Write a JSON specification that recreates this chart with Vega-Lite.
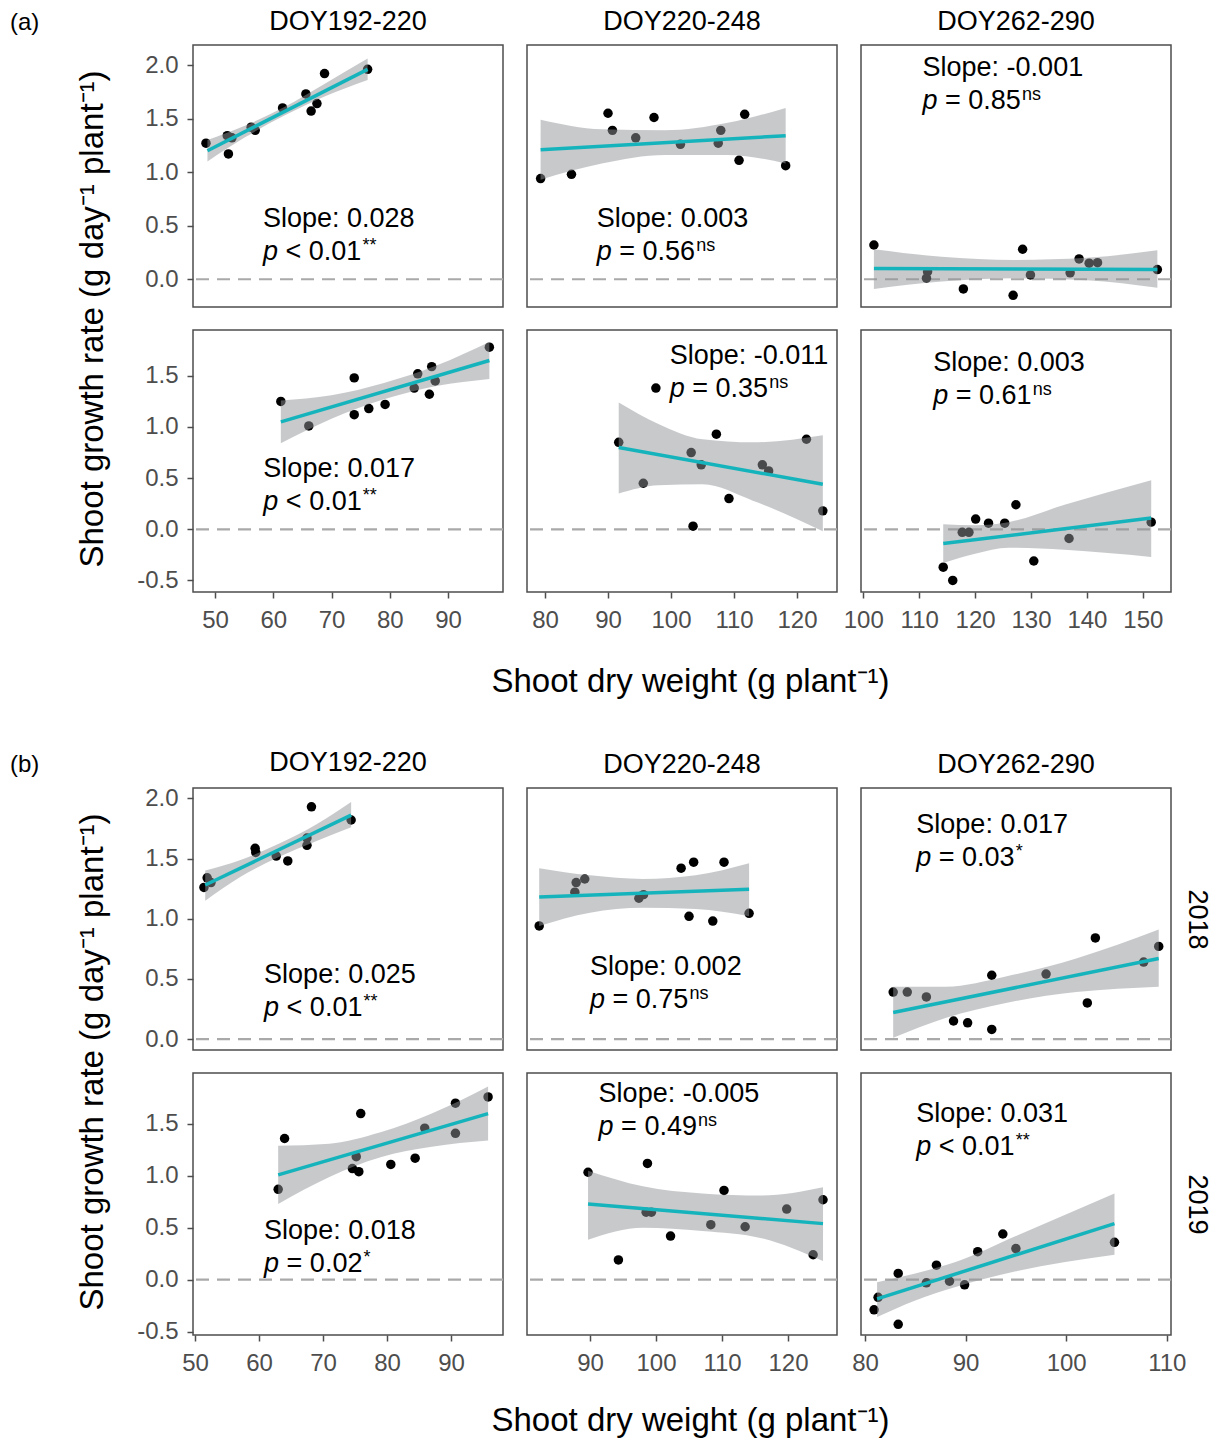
{
"$schema": "https://vega.github.io/schema/vega-lite/v6.json",
"padding": {"left": 10, "top": 7, "right": 8, "bottom": 2},
"config": {
  "font": "Liberation Sans",
  "view": {"stroke": "#4D4D4D", "strokeWidth": 1.5},
  "axis": {"domain": false, "grid": false, "tickColor": "#4D4D4D", "tickSize": 6, "tickWidth": 1.5, "labelColor": "#4D4D4D", "labelFontSize": 24, "labelPadding": 10, "labelFlush": false, "labelOverlap": false, "titleFontSize": 33, "titleFontWeight": "normal", "titleColor": "black"},
  "title": {"fontSize": 27, "fontWeight": "normal", "color": "black", "baseline": "alphabetic", "offset": 9}
},
"datasets": {
  "pts": [
    {"p":"a11","x":48.45,"y":1.27},{"p":"a11","x":52.1,"y":1.34},{"p":"a11","x":52.9,"y":1.32},{"p":"a11","x":52.3,"y":1.17},{"p":"a11","x":56.2,"y":1.42},{"p":"a11","x":56.9,"y":1.39},{"p":"a11","x":61.6,"y":1.60},{"p":"a11","x":65.6,"y":1.73},{"p":"a11","x":67.5,"y":1.64},{"p":"a11","x":66.5,"y":1.57},{"p":"a11","x":68.8,"y":1.92},{"p":"a11","x":76.2,"y":1.96},
    {"p":"a12","x":79.3,"y":0.94},{"p":"a12","x":84.2,"y":0.98},{"p":"a12","x":90.0,"y":1.55},{"p":"a12","x":90.7,"y":1.39},{"p":"a12","x":94.4,"y":1.32},{"p":"a12","x":97.3,"y":1.51},{"p":"a12","x":101.5,"y":1.26},{"p":"a12","x":107.5,"y":1.27},{"p":"a12","x":107.9,"y":1.39},{"p":"a12","x":110.8,"y":1.11},{"p":"a12","x":111.7,"y":1.54},{"p":"a12","x":118.2,"y":1.06},
    {"p":"a13","x":101.9,"y":0.32},{"p":"a13","x":111.5,"y":0.07},{"p":"a13","x":111.3,"y":0.01},{"p":"a13","x":117.9,"y":-0.09},{"p":"a13","x":128.5,"y":0.28},{"p":"a13","x":126.8,"y":-0.15},{"p":"a13","x":129.9,"y":0.04},{"p":"a13","x":137.0,"y":0.06},{"p":"a13","x":138.6,"y":0.19},{"p":"a13","x":140.4,"y":0.15},{"p":"a13","x":141.9,"y":0.155},{"p":"a13","x":152.6,"y":0.09},
    {"p":"a21","x":61.3,"y":1.25},{"p":"a21","x":66.1,"y":1.01},{"p":"a21","x":73.9,"y":1.48},{"p":"a21","x":73.9,"y":1.12},{"p":"a21","x":76.4,"y":1.18},{"p":"a21","x":79.2,"y":1.22},{"p":"a21","x":84.2,"y":1.38},{"p":"a21","x":84.8,"y":1.52},{"p":"a21","x":87.2,"y":1.59},{"p":"a21","x":87.8,"y":1.45},{"p":"a21","x":86.8,"y":1.32},{"p":"a21","x":97.1,"y":1.78},
    {"p":"a22","x":91.7,"y":0.85},{"p":"a22","x":95.6,"y":0.45},{"p":"a22","x":97.6,"y":1.38},{"p":"a22","x":103.2,"y":0.75},{"p":"a22","x":104.8,"y":0.63},{"p":"a22","x":103.5,"y":0.03},{"p":"a22","x":107.2,"y":0.93},{"p":"a22","x":109.2,"y":0.30},{"p":"a22","x":114.5,"y":0.63},{"p":"a22","x":115.5,"y":0.57},{"p":"a22","x":121.5,"y":0.88},{"p":"a22","x":124.1,"y":0.18},
    {"p":"a23","x":114.3,"y":-0.37},{"p":"a23","x":116.0,"y":-0.50},{"p":"a23","x":117.7,"y":-0.03},{"p":"a23","x":118.9,"y":-0.03},{"p":"a23","x":120.1,"y":0.10},{"p":"a23","x":122.4,"y":0.06},{"p":"a23","x":125.3,"y":0.06},{"p":"a23","x":127.3,"y":0.24},{"p":"a23","x":130.5,"y":-0.31},{"p":"a23","x":136.8,"y":-0.09},{"p":"a23","x":151.5,"y":0.07},
    {"p":"b11","x":51.4,"y":1.26},{"p":"b11","x":51.9,"y":1.34},{"p":"b11","x":52.5,"y":1.30},{"p":"b11","x":59.4,"y":1.585},{"p":"b11","x":59.5,"y":1.55},{"p":"b11","x":62.7,"y":1.52},{"p":"b11","x":64.5,"y":1.48},{"p":"b11","x":67.5,"y":1.61},{"p":"b11","x":67.5,"y":1.67},{"p":"b11","x":68.2,"y":1.93},{"p":"b11","x":74.4,"y":1.82},
    {"p":"b12","x":82.3,"y":0.94},{"p":"b12","x":87.7,"y":1.22},{"p":"b12","x":87.9,"y":1.30},{"p":"b12","x":89.2,"y":1.33},{"p":"b12","x":97.4,"y":1.17},{"p":"b12","x":98.1,"y":1.20},{"p":"b12","x":103.8,"y":1.42},{"p":"b12","x":105.7,"y":1.47},{"p":"b12","x":105.0,"y":1.02},{"p":"b12","x":108.6,"y":0.98},{"p":"b12","x":110.3,"y":1.47},{"p":"b12","x":114.1,"y":1.045},
    {"p":"b13","x":82.8,"y":0.39},{"p":"b13","x":84.2,"y":0.39},{"p":"b13","x":86.1,"y":0.35},{"p":"b13","x":88.8,"y":0.15},{"p":"b13","x":90.2,"y":0.135},{"p":"b13","x":92.6,"y":0.53},{"p":"b13","x":92.6,"y":0.08},{"p":"b13","x":98.0,"y":0.54},{"p":"b13","x":102.1,"y":0.30},{"p":"b13","x":102.9,"y":0.84},{"p":"b13","x":107.7,"y":0.64},{"p":"b13","x":109.2,"y":0.77},
    {"p":"b21","x":63.0,"y":0.87},{"p":"b21","x":64.0,"y":1.36},{"p":"b21","x":74.6,"y":1.07},{"p":"b21","x":75.2,"y":1.185},{"p":"b21","x":75.6,"y":1.04},{"p":"b21","x":75.9,"y":1.60},{"p":"b21","x":80.6,"y":1.11},{"p":"b21","x":84.4,"y":1.17},{"p":"b21","x":85.9,"y":1.46},{"p":"b21","x":90.7,"y":1.70},{"p":"b21","x":90.7,"y":1.41},{"p":"b21","x":95.8,"y":1.76},
    {"p":"b22","x":89.7,"y":1.035},{"p":"b22","x":94.3,"y":0.19},{"p":"b22","x":98.7,"y":1.12},{"p":"b22","x":98.5,"y":0.65},{"p":"b22","x":99.3,"y":0.65},{"p":"b22","x":102.2,"y":0.42},{"p":"b22","x":108.3,"y":0.53},{"p":"b22","x":110.3,"y":0.86},{"p":"b22","x":113.5,"y":0.51},{"p":"b22","x":119.8,"y":0.68},{"p":"b22","x":123.8,"y":0.24},{"p":"b22","x":125.3,"y":0.77},
    {"p":"b23","x":80.9,"y":-0.29},{"p":"b23","x":81.3,"y":-0.17},{"p":"b23","x":83.3,"y":0.06},{"p":"b23","x":83.3,"y":-0.43},{"p":"b23","x":86.1,"y":-0.03},{"p":"b23","x":87.1,"y":0.14},{"p":"b23","x":88.4,"y":-0.015},{"p":"b23","x":89.9,"y":-0.05},{"p":"b23","x":91.2,"y":0.27},{"p":"b23","x":93.7,"y":0.44},{"p":"b23","x":95.0,"y":0.30},{"p":"b23","x":104.8,"y":0.36}
  ],
  "fit": [
    {"p":"a11","x":48.7,"y":1.20},{"p":"a11","x":76.2,"y":1.96},
    {"p":"a12","x":79.3,"y":1.21},{"p":"a12","x":118.2,"y":1.34},
    {"p":"a13","x":101.9,"y":0.10},{"p":"a13","x":152.6,"y":0.09},
    {"p":"a21","x":61.3,"y":1.05},{"p":"a21","x":97.1,"y":1.65},
    {"p":"a22","x":91.7,"y":0.80},{"p":"a22","x":124.1,"y":0.44},
    {"p":"a23","x":114.3,"y":-0.14},{"p":"a23","x":151.5,"y":0.11},
    {"p":"b11","x":51.6,"y":1.28},{"p":"b11","x":74.4,"y":1.86},
    {"p":"b12","x":82.3,"y":1.18},{"p":"b12","x":114.1,"y":1.245},
    {"p":"b13","x":82.8,"y":0.22},{"p":"b13","x":109.2,"y":0.67},
    {"p":"b21","x":63.0,"y":1.01},{"p":"b21","x":95.8,"y":1.60},
    {"p":"b22","x":89.7,"y":0.73},{"p":"b22","x":125.3,"y":0.54},
    {"p":"b23","x":81.2,"y":-0.185},{"p":"b23","x":104.8,"y":0.54}
  ],
  "band": [
    {"p":"a11","x":48.7,"y":1.10,"y2":1.30},{"p":"a11","x":55,"y":1.32,"y2":1.43},{"p":"a11","x":62,"y":1.53,"y2":1.61},{"p":"a11","x":69,"y":1.71,"y2":1.83},{"p":"a11","x":76.2,"y":1.86,"y2":2.06},
    {"p":"a12","x":79.3,"y":0.93,"y2":1.49},{"p":"a12","x":89,"y":1.08,"y2":1.40},{"p":"a12","x":99,"y":1.16,"y2":1.39},{"p":"a12","x":109,"y":1.16,"y2":1.46},{"p":"a12","x":118.2,"y":1.08,"y2":1.60},
    {"p":"a13","x":101.9,"y":-0.09,"y2":0.28},{"p":"a13","x":114,"y":-0.02,"y2":0.21},{"p":"a13","x":127,"y":0.01,"y2":0.18},{"p":"a13","x":140,"y":-0.01,"y2":0.20},{"p":"a13","x":152.6,"y":-0.08,"y2":0.27},
    {"p":"a21","x":61.3,"y":0.84,"y2":1.26},{"p":"a21","x":70,"y":1.08,"y2":1.31},{"p":"a21","x":79,"y":1.27,"y2":1.43},{"p":"a21","x":88,"y":1.40,"y2":1.60},{"p":"a21","x":97.1,"y":1.47,"y2":1.83},
    {"p":"a22","x":91.7,"y":0.35,"y2":1.24},{"p":"a22","x":98,"y":0.43,"y2":1.03},{"p":"a22","x":105,"y":0.44,"y2":0.88},{"p":"a22","x":113,"y":0.28,"y2":0.85},{"p":"a22","x":124.1,"y":-0.02,"y2":0.92},
    {"p":"a23","x":114.3,"y":-0.33,"y2":0.05},{"p":"a23","x":120,"y":-0.24,"y2":0.04},{"p":"a23","x":126,"y":-0.18,"y2":0.07},{"p":"a23","x":136,"y":-0.20,"y2":0.24},{"p":"a23","x":151.5,"y":-0.27,"y2":0.48},
    {"p":"b11","x":51.6,"y":1.15,"y2":1.40},{"p":"b11","x":57,"y":1.345,"y2":1.485},{"p":"b11","x":63,"y":1.51,"y2":1.62},{"p":"b11","x":69,"y":1.645,"y2":1.785},{"p":"b11","x":74.4,"y":1.76,"y2":1.97},
    {"p":"b12","x":82.3,"y":0.94,"y2":1.42},{"p":"b12","x":90,"y":1.05,"y2":1.36},{"p":"b12","x":98,"y":1.09,"y2":1.33},{"p":"b12","x":106,"y":1.08,"y2":1.36},{"p":"b12","x":114.1,"y":1.02,"y2":1.46},
    {"p":"b13","x":82.8,"y":0.01,"y2":0.435},{"p":"b13","x":88,"y":0.175,"y2":0.435},{"p":"b13","x":94,"y":0.30,"y2":0.52},{"p":"b13","x":101,"y":0.39,"y2":0.67},{"p":"b13","x":109.2,"y":0.435,"y2":0.91},
    {"p":"b21","x":63,"y":0.73,"y2":1.29},{"p":"b21","x":71,"y":0.99,"y2":1.31},{"p":"b21","x":79,"y":1.18,"y2":1.42},{"p":"b21","x":87,"y":1.28,"y2":1.60},{"p":"b21","x":95.8,"y":1.34,"y2":1.86},
    {"p":"b22","x":89.7,"y":0.385,"y2":1.05},{"p":"b22","x":98,"y":0.50,"y2":0.90},{"p":"b22","x":107,"y":0.47,"y2":0.83},{"p":"b22","x":116,"y":0.40,"y2":0.81},{"p":"b22","x":125.3,"y":0.18,"y2":0.89},
    {"p":"b23","x":81.2,"y":-0.36,"y2":-0.025},{"p":"b23","x":85,"y":-0.20,"y2":0.06},{"p":"b23","x":89,"y":-0.07,"y2":0.17},{"p":"b23","x":95,"y":0.08,"y2":0.42},{"p":"b23","x":104.8,"y":0.24,"y2":0.83}
  ],
  "ann": [
    {"p":"a11","x":58.24,"y":0.488,"s":"Slope: 0.028","r":"< 0.01","u":"**"},
    {"p":"a12","x":88.2,"y":0.49,"s":"Slope: 0.003","r":"= 0.56","u":"ns"},
    {"p":"a13","x":110.6,"y":1.90,"s":"Slope: -0.001","r":"= 0.85","u":"ns"},
    {"p":"a21","x":58.3,"y":0.514,"s":"Slope: 0.017","r":"< 0.01","u":"**"},
    {"p":"a22","x":99.8,"y":1.616,"s":"Slope: -0.011","r":"= 0.35","u":"ns"},
    {"p":"a23","x":112.5,"y":1.55,"s":"Slope: 0.003","r":"= 0.61","u":"ns"},
    {"p":"b11","x":60.8,"y":0.468,"s":"Slope: 0.025","r":"< 0.01","u":"**"},
    {"p":"b12","x":90.0,"y":0.532,"s":"Slope: 0.002","r":"= 0.75","u":"ns"},
    {"p":"b13","x":85.1,"y":1.71,"s":"Slope: 0.017","r":"= 0.03","u":"*"},
    {"p":"b21","x":60.8,"y":0.39,"s":"Slope: 0.018","r":"= 0.02","u":"*"},
    {"p":"b22","x":91.3,"y":1.71,"s":"Slope: -0.005","r":"= 0.49","u":"ns"},
    {"p":"b23","x":85.1,"y":1.516,"s":"Slope: 0.031","r":"< 0.01","u":"**"}
  ]
},
"title": {"text": "(a)", "anchor": "start", "frame": "group", "dx": -183, "fontSize": 24, "offset": -28},
"columns": 3,
"spacing": {"row": 23, "column": 24},
"bounds": "flush",
"concat": [
   {"width": 310, "height": 262, "title": {"text": "DOY192-220"},
    "encoding": {"y": {"field": "y", "type": "quantitative", "scale": {"domain": [-0.259, 2.187], "nice": false, "zero": false},
      "axis": {"values": [0, 0.5, 1, 1.5, 2], "labelExpr": "replace(format(datum.value,'.1f'),'−','-')", "labelPadding": 9, "title": "Shoot growth rate (g day⁻¹ plant⁻¹)", "titleX": -91, "titleY": 273.5, "titleAngle": 270, "titleAlign": "center", "titleBaseline": "alphabetic"}}},
    "layer": [
     {"data": {"values": [{"y": 0}]}, "mark": {"type": "rule", "color": "#A9A9A9", "strokeWidth": 2.2, "strokeDash": [13, 8]}, "encoding": {}},
     {"encoding": {"x": {"field": "x", "type": "quantitative", "scale": {"domain": [46.22, 99.44], "nice": false, "zero": false}, "axis": null}},
      "layer": [
       {"data": {"name": "pts"}, "transform": [{"filter": "datum.p == 'a11'"}], "mark": {"type": "circle", "size": 90, "color": "black", "opacity": 1}, "encoding": {}},
       {"data": {"name": "band"}, "transform": [{"filter": "datum.p == 'a11'"}], "mark": {"type": "area", "interpolate": "monotone", "color": "#8F9497", "opacity": 0.5}, "encoding": {"y2": {"field": "y2"}}},
       {"data": {"name": "fit"}, "transform": [{"filter": "datum.p == 'a11'"}], "mark": {"type": "line", "color": "#15B4BC", "strokeWidth": 3.5}, "encoding": {}},
       {"data": {"name": "ann"}, "transform": [{"filter": "datum.p == 'a11'"}], "mark": {"type": "text", "align": "left", "baseline": "alphabetic", "fontSize": 27}, "encoding": {"text": {"field": "s"}}},
       {"data": {"name": "ann"}, "transform": [{"filter": "datum.p == 'a11'"}], "mark": {"type": "text", "align": "left", "baseline": "alphabetic", "fontSize": 27, "fontStyle": "italic", "dy": 33}, "encoding": {"text": {"value": "p"}}},
       {"data": {"name": "ann"}, "transform": [{"filter": "datum.p == 'a11'"}], "mark": {"type": "text", "align": "left", "baseline": "alphabetic", "fontSize": 27, "dx": 22.5, "dy": 33}, "encoding": {"text": {"field": "r"}}},
       {"data": {"name": "ann"}, "transform": [{"filter": "datum.p == 'a11'"}], "mark": {"type": "text", "align": "left", "baseline": "alphabetic", "fontSize": 18, "dx": 99.5, "dy": 24}, "encoding": {"text": {"field": "u"}}}
      ]}
    ]},
   {"width": 310, "height": 262, "title": {"text": "DOY220-248"},
    "encoding": {"y": {"field": "y", "type": "quantitative", "scale": {"domain": [-0.259, 2.187], "nice": false, "zero": false}, "axis": null}},
    "layer": [
     {"data": {"values": [{"y": 0}]}, "mark": {"type": "rule", "color": "#A9A9A9", "strokeWidth": 2.2, "strokeDash": [13, 8]}, "encoding": {}},
     {"encoding": {"x": {"field": "x", "type": "quantitative", "scale": {"domain": [77.14, 126.35], "nice": false, "zero": false}, "axis": null}},
      "layer": [
       {"data": {"name": "pts"}, "transform": [{"filter": "datum.p == 'a12'"}], "mark": {"type": "circle", "size": 90, "color": "black", "opacity": 1}, "encoding": {}},
       {"data": {"name": "band"}, "transform": [{"filter": "datum.p == 'a12'"}], "mark": {"type": "area", "interpolate": "monotone", "color": "#8F9497", "opacity": 0.5}, "encoding": {"y2": {"field": "y2"}}},
       {"data": {"name": "fit"}, "transform": [{"filter": "datum.p == 'a12'"}], "mark": {"type": "line", "color": "#15B4BC", "strokeWidth": 3.5}, "encoding": {}},
       {"data": {"name": "ann"}, "transform": [{"filter": "datum.p == 'a12'"}], "mark": {"type": "text", "align": "left", "baseline": "alphabetic", "fontSize": 27}, "encoding": {"text": {"field": "s"}}},
       {"data": {"name": "ann"}, "transform": [{"filter": "datum.p == 'a12'"}], "mark": {"type": "text", "align": "left", "baseline": "alphabetic", "fontSize": 27, "fontStyle": "italic", "dy": 33}, "encoding": {"text": {"value": "p"}}},
       {"data": {"name": "ann"}, "transform": [{"filter": "datum.p == 'a12'"}], "mark": {"type": "text", "align": "left", "baseline": "alphabetic", "fontSize": 27, "dx": 22.5, "dy": 33}, "encoding": {"text": {"field": "r"}}},
       {"data": {"name": "ann"}, "transform": [{"filter": "datum.p == 'a12'"}], "mark": {"type": "text", "align": "left", "baseline": "alphabetic", "fontSize": 18, "dx": 99.5, "dy": 24}, "encoding": {"text": {"field": "u"}}}
      ]}
    ]},
   {"width": 310, "height": 262, "title": {"text": "DOY262-290"},
    "encoding": {"y": {"field": "y", "type": "quantitative", "scale": {"domain": [-0.259, 2.187], "nice": false, "zero": false}, "axis": null}},
    "layer": [
     {"data": {"values": [{"y": 0}]}, "mark": {"type": "rule", "color": "#A9A9A9", "strokeWidth": 2.2, "strokeDash": [13, 8]}, "encoding": {}},
     {"encoding": {"x": {"field": "x", "type": "quantitative", "scale": {"domain": [99.59, 155.04], "nice": false, "zero": false}, "axis": null}},
      "layer": [
       {"data": {"name": "pts"}, "transform": [{"filter": "datum.p == 'a13'"}], "mark": {"type": "circle", "size": 90, "color": "black", "opacity": 1}, "encoding": {}},
       {"data": {"name": "band"}, "transform": [{"filter": "datum.p == 'a13'"}], "mark": {"type": "area", "interpolate": "monotone", "color": "#8F9497", "opacity": 0.5}, "encoding": {"y2": {"field": "y2"}}},
       {"data": {"name": "fit"}, "transform": [{"filter": "datum.p == 'a13'"}], "mark": {"type": "line", "color": "#15B4BC", "strokeWidth": 3.5}, "encoding": {}},
       {"data": {"name": "ann"}, "transform": [{"filter": "datum.p == 'a13'"}], "mark": {"type": "text", "align": "left", "baseline": "alphabetic", "fontSize": 27}, "encoding": {"text": {"field": "s"}}},
       {"data": {"name": "ann"}, "transform": [{"filter": "datum.p == 'a13'"}], "mark": {"type": "text", "align": "left", "baseline": "alphabetic", "fontSize": 27, "fontStyle": "italic", "dy": 33}, "encoding": {"text": {"value": "p"}}},
       {"data": {"name": "ann"}, "transform": [{"filter": "datum.p == 'a13'"}], "mark": {"type": "text", "align": "left", "baseline": "alphabetic", "fontSize": 27, "dx": 22.5, "dy": 33}, "encoding": {"text": {"field": "r"}}},
       {"data": {"name": "ann"}, "transform": [{"filter": "datum.p == 'a13'"}], "mark": {"type": "text", "align": "left", "baseline": "alphabetic", "fontSize": 18, "dx": 99.5, "dy": 24}, "encoding": {"text": {"field": "u"}}}
      ]}
    ]},
   {"width": 310, "height": 262,
    "encoding": {"y": {"field": "y", "type": "quantitative", "scale": {"domain": [-0.613, 1.948], "nice": false, "zero": false},
      "axis": {"values": [-0.5, 0, 0.5, 1, 1.5], "labelExpr": "replace(format(datum.value,'.1f'),'−','-')", "labelPadding": 9, "title": null}}},
    "layer": [
     {"data": {"values": [{"y": 0}]}, "mark": {"type": "rule", "color": "#A9A9A9", "strokeWidth": 2.2, "strokeDash": [13, 8]}, "encoding": {}},
     {"encoding": {"x": {"field": "x", "type": "quantitative", "scale": {"domain": [46.22, 99.44], "nice": false, "zero": false}, "axis": {"values": [50, 60, 70, 80, 90], "format": "d", "title": null}}},
      "layer": [
       {"data": {"name": "pts"}, "transform": [{"filter": "datum.p == 'a21'"}], "mark": {"type": "circle", "size": 90, "color": "black", "opacity": 1}, "encoding": {}},
       {"data": {"name": "band"}, "transform": [{"filter": "datum.p == 'a21'"}], "mark": {"type": "area", "interpolate": "monotone", "color": "#8F9497", "opacity": 0.5}, "encoding": {"y2": {"field": "y2"}}},
       {"data": {"name": "fit"}, "transform": [{"filter": "datum.p == 'a21'"}], "mark": {"type": "line", "color": "#15B4BC", "strokeWidth": 3.5}, "encoding": {}},
       {"data": {"name": "ann"}, "transform": [{"filter": "datum.p == 'a21'"}], "mark": {"type": "text", "align": "left", "baseline": "alphabetic", "fontSize": 27}, "encoding": {"text": {"field": "s"}}},
       {"data": {"name": "ann"}, "transform": [{"filter": "datum.p == 'a21'"}], "mark": {"type": "text", "align": "left", "baseline": "alphabetic", "fontSize": 27, "fontStyle": "italic", "dy": 33}, "encoding": {"text": {"value": "p"}}},
       {"data": {"name": "ann"}, "transform": [{"filter": "datum.p == 'a21'"}], "mark": {"type": "text", "align": "left", "baseline": "alphabetic", "fontSize": 27, "dx": 22.5, "dy": 33}, "encoding": {"text": {"field": "r"}}},
       {"data": {"name": "ann"}, "transform": [{"filter": "datum.p == 'a21'"}], "mark": {"type": "text", "align": "left", "baseline": "alphabetic", "fontSize": 18, "dx": 99.5, "dy": 24}, "encoding": {"text": {"field": "u"}}}
      ]}
    ]},
   {"width": 310, "height": 262,
    "encoding": {"y": {"field": "y", "type": "quantitative", "scale": {"domain": [-0.613, 1.948], "nice": false, "zero": false}, "axis": null}},
    "layer": [
     {"data": {"values": [{"y": 0}]}, "mark": {"type": "rule", "color": "#A9A9A9", "strokeWidth": 2.2, "strokeDash": [13, 8]}, "encoding": {}},
     {"encoding": {"x": {"field": "x", "type": "quantitative", "scale": {"domain": [77.14, 126.35], "nice": false, "zero": false}, "axis": {"values": [80, 90, 100, 110, 120], "format": "d", "title": "Shoot dry weight (g plant⁻¹)", "titleX": 163, "titleY": 99, "titleAlign": "center", "titleBaseline": "alphabetic"}}},
      "layer": [
       {"data": {"name": "pts"}, "transform": [{"filter": "datum.p == 'a22'"}], "mark": {"type": "circle", "size": 90, "color": "black", "opacity": 1}, "encoding": {}},
       {"data": {"name": "band"}, "transform": [{"filter": "datum.p == 'a22'"}], "mark": {"type": "area", "interpolate": "monotone", "color": "#8F9497", "opacity": 0.5}, "encoding": {"y2": {"field": "y2"}}},
       {"data": {"name": "fit"}, "transform": [{"filter": "datum.p == 'a22'"}], "mark": {"type": "line", "color": "#15B4BC", "strokeWidth": 3.5}, "encoding": {}},
       {"data": {"name": "ann"}, "transform": [{"filter": "datum.p == 'a22'"}], "mark": {"type": "text", "align": "left", "baseline": "alphabetic", "fontSize": 27}, "encoding": {"text": {"field": "s"}}},
       {"data": {"name": "ann"}, "transform": [{"filter": "datum.p == 'a22'"}], "mark": {"type": "text", "align": "left", "baseline": "alphabetic", "fontSize": 27, "fontStyle": "italic", "dy": 33}, "encoding": {"text": {"value": "p"}}},
       {"data": {"name": "ann"}, "transform": [{"filter": "datum.p == 'a22'"}], "mark": {"type": "text", "align": "left", "baseline": "alphabetic", "fontSize": 27, "dx": 22.5, "dy": 33}, "encoding": {"text": {"field": "r"}}},
       {"data": {"name": "ann"}, "transform": [{"filter": "datum.p == 'a22'"}], "mark": {"type": "text", "align": "left", "baseline": "alphabetic", "fontSize": 18, "dx": 99.5, "dy": 24}, "encoding": {"text": {"field": "u"}}}
      ]}
    ]},
   {"width": 310, "height": 262,
    "encoding": {"y": {"field": "y", "type": "quantitative", "scale": {"domain": [-0.613, 1.948], "nice": false, "zero": false}, "axis": null}},
    "layer": [
     {"data": {"values": [{"y": 0}]}, "mark": {"type": "rule", "color": "#A9A9A9", "strokeWidth": 2.2, "strokeDash": [13, 8]}, "encoding": {}},
     {"encoding": {"x": {"field": "x", "type": "quantitative", "scale": {"domain": [99.59, 155.04], "nice": false, "zero": false}, "axis": {"values": [100, 110, 120, 130, 140, 150], "format": "d", "title": null}}},
      "layer": [
       {"data": {"name": "pts"}, "transform": [{"filter": "datum.p == 'a23'"}], "mark": {"type": "circle", "size": 90, "color": "black", "opacity": 1}, "encoding": {}},
       {"data": {"name": "band"}, "transform": [{"filter": "datum.p == 'a23'"}], "mark": {"type": "area", "interpolate": "monotone", "color": "#8F9497", "opacity": 0.5}, "encoding": {"y2": {"field": "y2"}}},
       {"data": {"name": "fit"}, "transform": [{"filter": "datum.p == 'a23'"}], "mark": {"type": "line", "color": "#15B4BC", "strokeWidth": 3.5}, "encoding": {}},
       {"data": {"name": "ann"}, "transform": [{"filter": "datum.p == 'a23'"}], "mark": {"type": "text", "align": "left", "baseline": "alphabetic", "fontSize": 27}, "encoding": {"text": {"field": "s"}}},
       {"data": {"name": "ann"}, "transform": [{"filter": "datum.p == 'a23'"}], "mark": {"type": "text", "align": "left", "baseline": "alphabetic", "fontSize": 27, "fontStyle": "italic", "dy": 33}, "encoding": {"text": {"value": "p"}}},
       {"data": {"name": "ann"}, "transform": [{"filter": "datum.p == 'a23'"}], "mark": {"type": "text", "align": "left", "baseline": "alphabetic", "fontSize": 27, "dx": 22.5, "dy": 33}, "encoding": {"text": {"field": "r"}}},
       {"data": {"name": "ann"}, "transform": [{"filter": "datum.p == 'a23'"}], "mark": {"type": "text", "align": "left", "baseline": "alphabetic", "fontSize": 18, "dx": 99.5, "dy": 24}, "encoding": {"text": {"field": "u"}}}
      ]}
    ]},
   {"width": 310, "height": 150, "view": {"stroke": null}, "title": {"text": "(b)", "orient": "bottom", "anchor": "start", "frame": "group", "dx": -183, "fontSize": 24, "offset": -12},
    "data": {"values": [{"t": ""}]}, "mark": {"type": "text"}, "encoding": {"text": {"field": "t"}}},
   {"width": 310, "height": 150, "view": {"stroke": null},
    "data": {"values": [{"t": ""}]}, "mark": {"type": "text"}, "encoding": {"text": {"field": "t"}}},
   {"width": 310, "height": 150, "view": {"stroke": null},
    "data": {"values": [{"t": ""}]}, "mark": {"type": "text"}, "encoding": {"text": {"field": "t"}}},
   {"width": 310, "height": 262, "title": {"text": "DOY192-220"},
    "encoding": {"y": {"field": "y", "type": "quantitative", "scale": {"domain": [-0.091, 2.086], "nice": false, "zero": false},
      "axis": {"values": [0, 0.5, 1, 1.5, 2], "labelExpr": "replace(format(datum.value,'.1f'),'−','-')", "labelPadding": 9, "title": "Shoot growth rate (g day⁻¹ plant⁻¹)", "titleX": -91, "titleY": 273.5, "titleAngle": 270, "titleAlign": "center", "titleBaseline": "alphabetic"}}},
    "layer": [
     {"data": {"values": [{"y": 0}]}, "mark": {"type": "rule", "color": "#A9A9A9", "strokeWidth": 2.2, "strokeDash": [13, 8]}, "encoding": {}},
     {"encoding": {"x": {"field": "x", "type": "quantitative", "scale": {"domain": [49.69, 98.13], "nice": false, "zero": false}, "axis": null}},
      "layer": [
       {"data": {"name": "pts"}, "transform": [{"filter": "datum.p == 'b11'"}], "mark": {"type": "circle", "size": 90, "color": "black", "opacity": 1}, "encoding": {}},
       {"data": {"name": "band"}, "transform": [{"filter": "datum.p == 'b11'"}], "mark": {"type": "area", "interpolate": "monotone", "color": "#8F9497", "opacity": 0.5}, "encoding": {"y2": {"field": "y2"}}},
       {"data": {"name": "fit"}, "transform": [{"filter": "datum.p == 'b11'"}], "mark": {"type": "line", "color": "#15B4BC", "strokeWidth": 3.5}, "encoding": {}},
       {"data": {"name": "ann"}, "transform": [{"filter": "datum.p == 'b11'"}], "mark": {"type": "text", "align": "left", "baseline": "alphabetic", "fontSize": 27}, "encoding": {"text": {"field": "s"}}},
       {"data": {"name": "ann"}, "transform": [{"filter": "datum.p == 'b11'"}], "mark": {"type": "text", "align": "left", "baseline": "alphabetic", "fontSize": 27, "fontStyle": "italic", "dy": 33}, "encoding": {"text": {"value": "p"}}},
       {"data": {"name": "ann"}, "transform": [{"filter": "datum.p == 'b11'"}], "mark": {"type": "text", "align": "left", "baseline": "alphabetic", "fontSize": 27, "dx": 22.5, "dy": 33}, "encoding": {"text": {"field": "r"}}},
       {"data": {"name": "ann"}, "transform": [{"filter": "datum.p == 'b11'"}], "mark": {"type": "text", "align": "left", "baseline": "alphabetic", "fontSize": 18, "dx": 99.5, "dy": 24}, "encoding": {"text": {"field": "u"}}}
      ]}
    ]},
   {"width": 310, "height": 262, "title": {"text": "DOY220-248"},
    "encoding": {"y": {"field": "y", "type": "quantitative", "scale": {"domain": [-0.091, 2.086], "nice": false, "zero": false}, "axis": null}},
    "layer": [
     {"data": {"values": [{"y": 0}]}, "mark": {"type": "rule", "color": "#A9A9A9", "strokeWidth": 2.2, "strokeDash": [13, 8]}, "encoding": {}},
     {"encoding": {"x": {"field": "x", "type": "quantitative", "scale": {"domain": [80.45, 127.42], "nice": false, "zero": false}, "axis": null}},
      "layer": [
       {"data": {"name": "pts"}, "transform": [{"filter": "datum.p == 'b12'"}], "mark": {"type": "circle", "size": 90, "color": "black", "opacity": 1}, "encoding": {}},
       {"data": {"name": "band"}, "transform": [{"filter": "datum.p == 'b12'"}], "mark": {"type": "area", "interpolate": "monotone", "color": "#8F9497", "opacity": 0.5}, "encoding": {"y2": {"field": "y2"}}},
       {"data": {"name": "fit"}, "transform": [{"filter": "datum.p == 'b12'"}], "mark": {"type": "line", "color": "#15B4BC", "strokeWidth": 3.5}, "encoding": {}},
       {"data": {"name": "ann"}, "transform": [{"filter": "datum.p == 'b12'"}], "mark": {"type": "text", "align": "left", "baseline": "alphabetic", "fontSize": 27}, "encoding": {"text": {"field": "s"}}},
       {"data": {"name": "ann"}, "transform": [{"filter": "datum.p == 'b12'"}], "mark": {"type": "text", "align": "left", "baseline": "alphabetic", "fontSize": 27, "fontStyle": "italic", "dy": 33}, "encoding": {"text": {"value": "p"}}},
       {"data": {"name": "ann"}, "transform": [{"filter": "datum.p == 'b12'"}], "mark": {"type": "text", "align": "left", "baseline": "alphabetic", "fontSize": 27, "dx": 22.5, "dy": 33}, "encoding": {"text": {"field": "r"}}},
       {"data": {"name": "ann"}, "transform": [{"filter": "datum.p == 'b12'"}], "mark": {"type": "text", "align": "left", "baseline": "alphabetic", "fontSize": 18, "dx": 99.5, "dy": 24}, "encoding": {"text": {"field": "u"}}}
      ]}
    ]},
   {"width": 310, "height": 262, "title": {"text": "DOY262-290"},
    "encoding": {"y": {"field": "y", "type": "quantitative", "scale": {"domain": [-0.091, 2.086], "nice": false, "zero": false},
      "axis": {"orient": "right", "labels": false, "ticks": false, "title": "2018", "titleFontSize": 27, "titleAngle": 90, "titleAlign": "center", "titleBaseline": "alphabetic", "titleX": 17.5, "titleY": 131}}},
    "layer": [
     {"data": {"values": [{"y": 0}]}, "mark": {"type": "rule", "color": "#A9A9A9", "strokeWidth": 2.2, "strokeDash": [13, 8]}, "encoding": {}},
     {"encoding": {"x": {"field": "x", "type": "quantitative", "scale": {"domain": [79.60, 110.42], "nice": false, "zero": false}, "axis": null}},
      "layer": [
       {"data": {"name": "pts"}, "transform": [{"filter": "datum.p == 'b13'"}], "mark": {"type": "circle", "size": 90, "color": "black", "opacity": 1}, "encoding": {}},
       {"data": {"name": "band"}, "transform": [{"filter": "datum.p == 'b13'"}], "mark": {"type": "area", "interpolate": "monotone", "color": "#8F9497", "opacity": 0.5}, "encoding": {"y2": {"field": "y2"}}},
       {"data": {"name": "fit"}, "transform": [{"filter": "datum.p == 'b13'"}], "mark": {"type": "line", "color": "#15B4BC", "strokeWidth": 3.5}, "encoding": {}},
       {"data": {"name": "ann"}, "transform": [{"filter": "datum.p == 'b13'"}], "mark": {"type": "text", "align": "left", "baseline": "alphabetic", "fontSize": 27}, "encoding": {"text": {"field": "s"}}},
       {"data": {"name": "ann"}, "transform": [{"filter": "datum.p == 'b13'"}], "mark": {"type": "text", "align": "left", "baseline": "alphabetic", "fontSize": 27, "fontStyle": "italic", "dy": 33}, "encoding": {"text": {"value": "p"}}},
       {"data": {"name": "ann"}, "transform": [{"filter": "datum.p == 'b13'"}], "mark": {"type": "text", "align": "left", "baseline": "alphabetic", "fontSize": 27, "dx": 22.5, "dy": 33}, "encoding": {"text": {"field": "r"}}},
       {"data": {"name": "ann"}, "transform": [{"filter": "datum.p == 'b13'"}], "mark": {"type": "text", "align": "left", "baseline": "alphabetic", "fontSize": 18, "dx": 99.5, "dy": 24}, "encoding": {"text": {"field": "u"}}}
      ]}
    ]},
   {"width": 310, "height": 262,
    "encoding": {"y": {"field": "y", "type": "quantitative", "scale": {"domain": [-0.533, 1.991], "nice": false, "zero": false},
      "axis": {"values": [-0.5, 0, 0.5, 1, 1.5], "labelExpr": "replace(format(datum.value,'.1f'),'−','-')", "labelPadding": 9, "title": null}}},
    "layer": [
     {"data": {"values": [{"y": 0}]}, "mark": {"type": "rule", "color": "#A9A9A9", "strokeWidth": 2.2, "strokeDash": [13, 8]}, "encoding": {}},
     {"encoding": {"x": {"field": "x", "type": "quantitative", "scale": {"domain": [49.69, 98.13], "nice": false, "zero": false}, "axis": {"values": [50, 60, 70, 80, 90], "format": "d", "title": null}}},
      "layer": [
       {"data": {"name": "pts"}, "transform": [{"filter": "datum.p == 'b21'"}], "mark": {"type": "circle", "size": 90, "color": "black", "opacity": 1}, "encoding": {}},
       {"data": {"name": "band"}, "transform": [{"filter": "datum.p == 'b21'"}], "mark": {"type": "area", "interpolate": "monotone", "color": "#8F9497", "opacity": 0.5}, "encoding": {"y2": {"field": "y2"}}},
       {"data": {"name": "fit"}, "transform": [{"filter": "datum.p == 'b21'"}], "mark": {"type": "line", "color": "#15B4BC", "strokeWidth": 3.5}, "encoding": {}},
       {"data": {"name": "ann"}, "transform": [{"filter": "datum.p == 'b21'"}], "mark": {"type": "text", "align": "left", "baseline": "alphabetic", "fontSize": 27}, "encoding": {"text": {"field": "s"}}},
       {"data": {"name": "ann"}, "transform": [{"filter": "datum.p == 'b21'"}], "mark": {"type": "text", "align": "left", "baseline": "alphabetic", "fontSize": 27, "fontStyle": "italic", "dy": 33}, "encoding": {"text": {"value": "p"}}},
       {"data": {"name": "ann"}, "transform": [{"filter": "datum.p == 'b21'"}], "mark": {"type": "text", "align": "left", "baseline": "alphabetic", "fontSize": 27, "dx": 22.5, "dy": 33}, "encoding": {"text": {"field": "r"}}},
       {"data": {"name": "ann"}, "transform": [{"filter": "datum.p == 'b21'"}], "mark": {"type": "text", "align": "left", "baseline": "alphabetic", "fontSize": 18, "dx": 99.5, "dy": 24}, "encoding": {"text": {"field": "u"}}}
      ]}
    ]},
   {"width": 310, "height": 262,
    "encoding": {"y": {"field": "y", "type": "quantitative", "scale": {"domain": [-0.533, 1.991], "nice": false, "zero": false}, "axis": null}},
    "layer": [
     {"data": {"values": [{"y": 0}]}, "mark": {"type": "rule", "color": "#A9A9A9", "strokeWidth": 2.2, "strokeDash": [13, 8]}, "encoding": {}},
     {"encoding": {"x": {"field": "x", "type": "quantitative", "scale": {"domain": [80.45, 127.42], "nice": false, "zero": false}, "axis": {"values": [90, 100, 110, 120], "format": "d", "title": "Shoot dry weight (g plant⁻¹)", "titleX": 163, "titleY": 95, "titleAlign": "center", "titleBaseline": "alphabetic"}}},
      "layer": [
       {"data": {"name": "pts"}, "transform": [{"filter": "datum.p == 'b22'"}], "mark": {"type": "circle", "size": 90, "color": "black", "opacity": 1}, "encoding": {}},
       {"data": {"name": "band"}, "transform": [{"filter": "datum.p == 'b22'"}], "mark": {"type": "area", "interpolate": "monotone", "color": "#8F9497", "opacity": 0.5}, "encoding": {"y2": {"field": "y2"}}},
       {"data": {"name": "fit"}, "transform": [{"filter": "datum.p == 'b22'"}], "mark": {"type": "line", "color": "#15B4BC", "strokeWidth": 3.5}, "encoding": {}},
       {"data": {"name": "ann"}, "transform": [{"filter": "datum.p == 'b22'"}], "mark": {"type": "text", "align": "left", "baseline": "alphabetic", "fontSize": 27}, "encoding": {"text": {"field": "s"}}},
       {"data": {"name": "ann"}, "transform": [{"filter": "datum.p == 'b22'"}], "mark": {"type": "text", "align": "left", "baseline": "alphabetic", "fontSize": 27, "fontStyle": "italic", "dy": 33}, "encoding": {"text": {"value": "p"}}},
       {"data": {"name": "ann"}, "transform": [{"filter": "datum.p == 'b22'"}], "mark": {"type": "text", "align": "left", "baseline": "alphabetic", "fontSize": 27, "dx": 22.5, "dy": 33}, "encoding": {"text": {"field": "r"}}},
       {"data": {"name": "ann"}, "transform": [{"filter": "datum.p == 'b22'"}], "mark": {"type": "text", "align": "left", "baseline": "alphabetic", "fontSize": 18, "dx": 99.5, "dy": 24}, "encoding": {"text": {"field": "u"}}}
      ]}
    ]},
   {"width": 310, "height": 262,
    "encoding": {"y": {"field": "y", "type": "quantitative", "scale": {"domain": [-0.533, 1.991], "nice": false, "zero": false},
      "axis": {"orient": "right", "labels": false, "ticks": false, "title": "2019", "titleFontSize": 27, "titleAngle": 90, "titleAlign": "center", "titleBaseline": "alphabetic", "titleX": 17.5, "titleY": 131}}},
    "layer": [
     {"data": {"values": [{"y": 0}]}, "mark": {"type": "rule", "color": "#A9A9A9", "strokeWidth": 2.2, "strokeDash": [13, 8]}, "encoding": {}},
     {"encoding": {"x": {"field": "x", "type": "quantitative", "scale": {"domain": [79.60, 110.42], "nice": false, "zero": false}, "axis": {"values": [80, 90, 100, 110], "format": "d", "title": null}}},
      "layer": [
       {"data": {"name": "pts"}, "transform": [{"filter": "datum.p == 'b23'"}], "mark": {"type": "circle", "size": 90, "color": "black", "opacity": 1}, "encoding": {}},
       {"data": {"name": "band"}, "transform": [{"filter": "datum.p == 'b23'"}], "mark": {"type": "area", "interpolate": "monotone", "color": "#8F9497", "opacity": 0.5}, "encoding": {"y2": {"field": "y2"}}},
       {"data": {"name": "fit"}, "transform": [{"filter": "datum.p == 'b23'"}], "mark": {"type": "line", "color": "#15B4BC", "strokeWidth": 3.5}, "encoding": {}},
       {"data": {"name": "ann"}, "transform": [{"filter": "datum.p == 'b23'"}], "mark": {"type": "text", "align": "left", "baseline": "alphabetic", "fontSize": 27}, "encoding": {"text": {"field": "s"}}},
       {"data": {"name": "ann"}, "transform": [{"filter": "datum.p == 'b23'"}], "mark": {"type": "text", "align": "left", "baseline": "alphabetic", "fontSize": 27, "fontStyle": "italic", "dy": 33}, "encoding": {"text": {"value": "p"}}},
       {"data": {"name": "ann"}, "transform": [{"filter": "datum.p == 'b23'"}], "mark": {"type": "text", "align": "left", "baseline": "alphabetic", "fontSize": 27, "dx": 22.5, "dy": 33}, "encoding": {"text": {"field": "r"}}},
       {"data": {"name": "ann"}, "transform": [{"filter": "datum.p == 'b23'"}], "mark": {"type": "text", "align": "left", "baseline": "alphabetic", "fontSize": 18, "dx": 99.5, "dy": 24}, "encoding": {"text": {"field": "u"}}}
      ]}
    ]}
]
}
